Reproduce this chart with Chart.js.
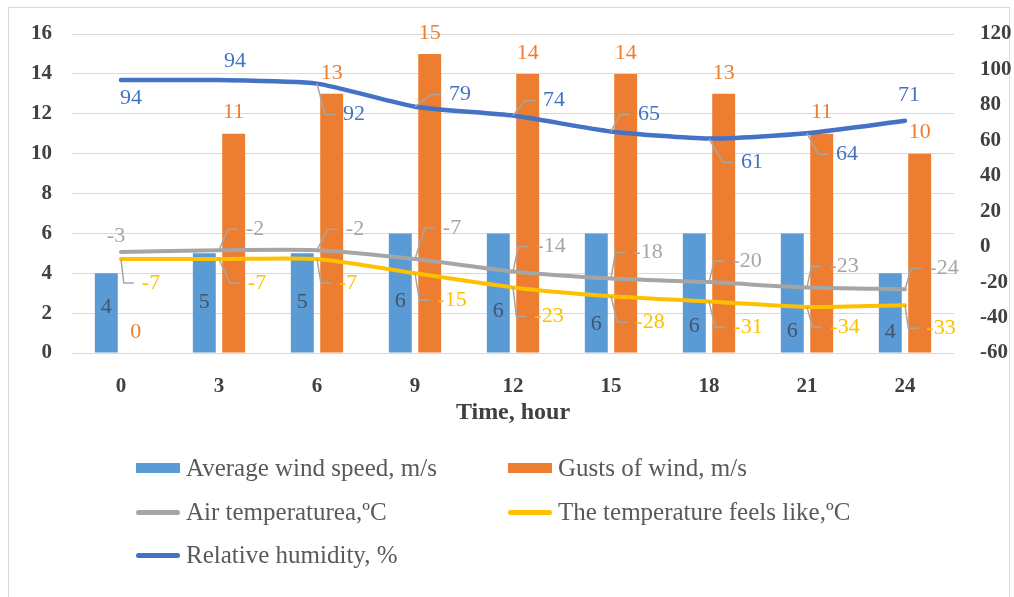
<!DOCTYPE html>
<html>
<head>
    <title>Wind, temperature and humidity</title>
    <script src="https://cdn.jsdelivr.net/npm/chart.js"></script>
    <style>
        body {
            margin: 0;
            background: #fff;
        }

        .wrap {
            position: relative;
            width: 1014px;
            height: 597px;
        }

        .frame {
            position: absolute;
            left: 8px;
            top: 7px;
            width: 1002px;
            height: 590px;
            border: 1px solid #d9d9d9;
            border-bottom: none;
            box-sizing: border-box;
        }

        #chart {
            position: absolute;
            left: 0;
            top: 0;
        }

        .item {
            position: absolute;
            display: flex;
            align-items: center;
            white-space: nowrap;
            font-family: "Liberation Serif", serif;
            font-size: 25px;
            color: #595959;
            height: 30px;
        }

        .key {
            width: 44px;
            margin-right: 6px;
        }
    </style>
</head>
<body>
    <div class="wrap">
        <div class="frame"></div>
        <canvas id="chart" width="1014" height="597"></canvas>
        <div id="legend"></div>
    </div>

    <script>
        const hours = ['0', '3', '6', '9', '12', '15', '18', '21', '24'];
        const windSpeed = [4, 5, 5, 6, 6, 6, 6, 6, 4];
        const gusts = [0, 11, 13, 15, 14, 14, 13, 11, 10];
        const airTemp = [-3, -2, -2, -7, -14, -18, -20, -23, -24];
        const feelsLike = [-7, -7, -7, -15, -23, -28, -31, -34, -33];
        const humidity = [94, 94, 92, 79, 74, 65, 61, 64, 71];

        const leftTicks = [0, 2, 4, 6, 8, 10, 12, 14, 16];
        const rightTicks = [-60, -40, -20, 0, 20, 40, 60, 80, 100, 120];

        // where each value label sits, relative to its bar base or line point
        const windShift = [-45, -50, -50, -51, -41, -28, -26, -21, -20];
        const airShift = [[-5, -16], [36, -21], [38, -21], [37, -31], [38, -25], [37, -26], [38, -21], [37, -21], [39, -21]];
        const feelsShift = [[30, 24], [38, 24], [31, 24], [37, 27], [36, 29], [39, 26], [39, 26], [38, 20], [36, 23]];
        const humidityShift = [[10, 18], [16, -19], [37, 31], [45, -12], [41, -15], [38, -17], [43, 24], [40, 21], [4, -26]];

        const labelSetup = [
            { mode: 'inside', color: '#44546a', shift: windShift },
            { mode: 'above', color: '#ed7d31' },
            { mode: 'point', color: '#a5a5a5', shift: airShift },
            { mode: 'point', color: '#ffc000', shift: feelsShift },
            { mode: 'point', color: '#4472c4', shift: humidityShift }
        ];

        const valueLabels = {
            id: 'valueLabels',
            afterDatasetsDraw(chart) {
                const ctx = chart.ctx;
                ctx.save();
                ctx.font = '22px "Liberation Serif"';
                ctx.textAlign = 'center';
                ctx.textBaseline = 'middle';
                chart.data.datasets.forEach((ds, di) => {
                    const setup = labelSetup[di];
                    const meta = chart.getDatasetMeta(di);
                    meta.data.forEach((el, i) => {
                        let x, y;
                        if (setup.mode === 'inside') {
                            x = el.x;
                            y = el.base + setup.shift[i];
                        } else if (setup.mode === 'above') {
                            x = el.x;
                            y = el.y - 21;
                        } else {
                            x = el.x + setup.shift[i][0];
                            y = el.y + setup.shift[i][1];
                        }
                        const text = String(ds.data[i]);
                        const left = x - ctx.measureText(text).width / 2;

                        // leader line for labels pulled away from their point
                        if (setup.mode === 'point' && left - el.x > 15) {
                            ctx.beginPath();
                            ctx.strokeStyle = '#a6a6a6';
                            ctx.lineWidth = 1.5;
                            ctx.moveTo(el.x, el.y);
                            ctx.lineTo(left - 18, y);
                            ctx.lineTo(left - 8, y);
                            ctx.stroke();
                        }

                        ctx.fillStyle = setup.color;
                        ctx.fillText(text, x, y);
                    });
                });
                ctx.restore();
            }
        };

        const tickFont = { family: 'Liberation Serif', size: 21, weight: 'bold' };

        const chart = new Chart(document.getElementById('chart'), {
            data: {
                labels: hours,
                datasets: [
                    {
                        type: 'bar',
                        label: 'Average wind speed, m/s',
                        data: windSpeed,
                        backgroundColor: '#5b9bd5',
                        yAxisID: 'y',
                        order: 2
                    },
                    {
                        type: 'bar',
                        label: 'Gusts of wind, m/s',
                        data: gusts,
                        backgroundColor: '#ed7d31',
                        yAxisID: 'y',
                        order: 2
                    },
                    {
                        type: 'line',
                        label: 'Air temperaturea,\u00baC',
                        data: airTemp,
                        borderColor: '#a5a5a5',
                        borderWidth: 4,
                        yAxisID: 'y1',
                        order: 1
                    },
                    {
                        type: 'line',
                        label: 'The temperature feels like,\u00baC',
                        data: feelsLike,
                        borderColor: '#ffc000',
                        borderWidth: 4,
                        yAxisID: 'y1',
                        order: 1
                    },
                    {
                        type: 'line',
                        label: 'Relative humidity, %',
                        data: humidity,
                        borderColor: '#4472c4',
                        borderWidth: 4.5,
                        yAxisID: 'y1',
                        order: 0
                    }
                ]
            },
            options: {
                responsive: false,
                animation: false,
                devicePixelRatio: 1,
                layout: { padding: { top: 34, bottom: 170, left: 0, right: 0 } },
                datasets: {
                    bar: { categoryPercentage: 0.6, barPercentage: 0.78 },
                    line: {
                        tension: 0.2,
                        pointRadius: 0,
                        borderCapStyle: 'round',
                        borderJoinStyle: 'round'
                    }
                },
                plugins: {
                    legend: { display: false },
                    tooltip: { enabled: false }
                },
                scales: {
                    x: {
                        grid: { display: false },
                        border: { display: false },
                        ticks: { font: tickFont, color: '#404040', padding: 13 },
                        title: {
                            display: true,
                            text: 'Time, hour',
                            font: { family: 'Liberation Serif', size: 24, weight: 'bold' },
                            color: '#404040',
                            padding: { top: 2, bottom: 0 }
                        },
                        afterFit(scale) { scale.height = 597 - 170 - 353; }
                    },
                    y: {
                        position: 'left',
                        min: leftTicks[0],
                        max: leftTicks[leftTicks.length - 1],
                        afterBuildTicks(scale) { scale.ticks = leftTicks.map(v => ({ value: v })); },
                        grid: { color: '#d9d9d9', lineWidth: 1, drawTicks: false },
                        border: { display: false },
                        ticks: { font: tickFont, color: '#404040', padding: 20 },
                        afterFit(scale) { scale.width = 72; }
                    },
                    y1: {
                        position: 'right',
                        min: rightTicks[0],
                        max: rightTicks[rightTicks.length - 1],
                        afterBuildTicks(scale) { scale.ticks = rightTicks.map(v => ({ value: v })); },
                        grid: { display: false },
                        border: { display: false },
                        ticks: { font: tickFont, color: '#404040', padding: 18 },
                        afterFit(scale) { scale.width = 60; }
                    }
                }
            },
            plugins: [valueLabels]
        });

        // legend in two columns under the plot
        const legend = document.getElementById('legend');
        const colX = [136, 508];
        const rowY = [468, 512, 555];
        chart.data.datasets.forEach((ds, i) => {
            const item = document.createElement('div');
            item.className = 'item';
            item.style.left = colX[i % 2] + 'px';
            item.style.top = (rowY[Math.floor(i / 2)] - 15) + 'px';
            const key = document.createElement('span');
            key.className = 'key';
            if (ds.type === 'bar') {
                key.style.height = '10px';
                key.style.background = ds.backgroundColor;
            } else {
                key.style.height = '5px';
                key.style.borderRadius = '3px';
                key.style.background = ds.borderColor;
            }
            const text = document.createElement('span');
            text.textContent = ds.label;
            item.appendChild(key);
            item.appendChild(text);
            legend.appendChild(item);
        });
    </script>
</body>
</html>
